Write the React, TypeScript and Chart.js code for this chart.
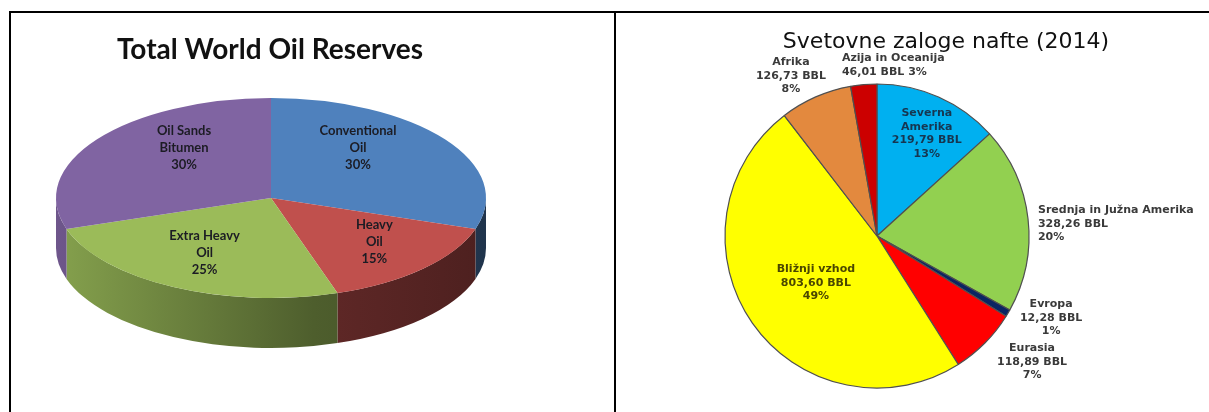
import React, { useEffect, useRef } from 'react';
import { Chart, registerables } from 'chart.js';

Chart.register(...registerables);

// ---------- Left chart data ----------
const OIL_TITLE = 'Total World Oil Reserves';
const OIL_TYPES = ['Conventional\nOil', 'Heavy\nOil', 'Extra Heavy\nOil', 'Oil Sands\nBitumen'];
const OIL_SHARES = [30, 15, 25, 30];
const OIL_COLORS = ['#4F81BD', '#C0504D', '#9BBB59', '#8064A2'];

// ---------- Right chart data ----------
const REGION_TITLE = 'Svetovne zaloge nafte (2014)';
const REGIONS = [
  'Severna\nAmerika',
  'Srednja in Južna Amerika',
  'Evropa',
  'Eurasia',
  'Bližnji vzhod',
  'Afrika',
  'Azija in Oceanija',
];
const REGION_RESERVES = [219.79, 328.26, 12.28, 118.89, 803.6, 126.73, 46.01];
const REGION_COLORS = ['#00B0F0', '#92D050', '#0B2563', '#FF0000', '#FFFF00', '#E3893E', '#CC0000'];
const VALUE_UNIT = 'BBL';

// ---------- Layout / style ----------
const W = 1209;
const H = 412;
const LEFT_W = 612;
const RIGHT_X = 616;
const RIGHT_W = W - RIGHT_X;

const TILT = 100 / 215;
const DEPTH = 50;

const OIL_LABEL = { lh: 17, font: 'bold 13px Lato', color: '#1c1c24' };
const REGION_LABEL_LAYOUT = [
  { r: 0.75, dAng: 2, align: 'center', color: '#163651' },
  { r: 1.062, dAng: 2.2, align: 'left', color: '#3a3a3a' },
  { r: 1.266, dAng: -5.3, align: 'center', color: '#3a3a3a' },
  { r: 1.314, dAng: -5.7, align: 'center', color: '#3a3a3a' },
  { r: 0.507, dAng: -2.6, align: 'center', color: '#4a4600' },
  { r: 1.195, dAng: -4.5, align: 'center', color: '#3a3a3a' },
  { r: 1.148, dAng: -6.6, align: 'left', color: '#3a3a3a', inline: true },
];

function shade(hex: string, f: number) {
  const n = parseInt(hex.slice(1), 16);
  const r = (n >> 16) & 255;
  const g = (n >> 8) & 255;
  const b = n & 255;
  return `rgb(${Math.round(r * f)},${Math.round(g * f)},${Math.round(b * f)})`;
}

const pie3dPlugin = {
  id: 'pie3d',
  beforeDatasetsDraw(chart: any) {
    const ctx: CanvasRenderingContext2D = chart.ctx;
    const meta = chart.getDatasetMeta(0);
    const a0: any = meta.data[0];
    const cx = a0.x;
    const cy = a0.y;
    const rx = a0.outerRadius;
    const ry = rx * TILT;
    meta.data.forEach((arc: any, i: number) => {
      const lo = Math.max(arc.startAngle, 0);
      const hi = Math.min(arc.endAngle, Math.PI);
      if (hi <= lo) return;
      const base = OIL_COLORS[i];
      const grad = ctx.createLinearGradient(cx - rx, 0, cx + rx, 0);
      grad.addColorStop(0, shade(base, 0.86));
      grad.addColorStop(0.6, shade(base, 0.5));
      grad.addColorStop(1, shade(base, 0.4));
      ctx.beginPath();
      ctx.ellipse(cx, cy, rx, ry, 0, lo, hi, false);
      ctx.ellipse(cx, cy + DEPTH, rx, ry, 0, hi, lo, true);
      ctx.closePath();
      ctx.fillStyle = grad;
      ctx.fill();
    });
    ctx.save();
    ctx.translate(cx, cy);
    ctx.scale(1, TILT);
    ctx.translate(-cx, -cy);
  },
  afterDatasetsDraw(chart: any) {
    const ctx: CanvasRenderingContext2D = chart.ctx;
    ctx.restore();
    const meta = chart.getDatasetMeta(0);
    const a0: any = meta.data[0];
    const cx = a0.x;
    const cy = a0.y;
    const rx = a0.outerRadius;
    const ry = rx * TILT;
    const total = OIL_SHARES.reduce((a, b) => a + b, 0);
    ctx.save();
    ctx.font = OIL_LABEL.font;
    ctx.fillStyle = OIL_LABEL.color;
    ctx.textAlign = 'center';
    ctx.textBaseline = 'middle';
    meta.data.forEach((arc: any, i: number) => {
      const mid = (arc.startAngle + arc.endAngle) / 2;
      const s = Math.sin(mid);
      const kx = s < 0 ? 0.5 : 0.68;
      const ky = s < 0 ? 0.85 : 0.62;
      const x = cx + rx * kx * Math.cos(mid);
      const y = cy + ry * ky * s;
      const lines = [...OIL_TYPES[i].split('\n'), `${Math.round((OIL_SHARES[i] / total) * 100)}%`];
      lines.forEach((t, j) => {
        ctx.fillText(t, x, y + (j - (lines.length - 1) / 2) * OIL_LABEL.lh);
      });
    });
    // title
    ctx.font = 'bold 28px Lato';
    ctx.fillStyle = '#111';
    ctx.textBaseline = 'alphabetic';
    ctx.fillText(OIL_TITLE, 270, 59);
    ctx.restore();
  },
};

const regionLabelPlugin = {
  id: 'regionLabels',
  afterDatasetsDraw(chart: any) {
    const ctx: CanvasRenderingContext2D = chart.ctx;
    const meta = chart.getDatasetMeta(0);
    const total = REGION_RESERVES.reduce((a, b) => a + b, 0);
    ctx.save();
    ctx.font = 'bold 11px "DejaVu Sans"';
    ctx.textBaseline = 'middle';
    meta.data.forEach((arc: any, i: number) => {
      const L = REGION_LABEL_LAYOUT[i];
      const mid = (arc.startAngle + arc.endAngle) / 2 + (L.dAng * Math.PI) / 180;
      const x = arc.x + arc.outerRadius * L.r * Math.cos(mid);
      const y = arc.y + arc.outerRadius * L.r * Math.sin(mid);
      const val = `${REGION_RESERVES[i].toFixed(2).replace('.', ',')} ${VALUE_UNIT}`;
      const pct = `${Math.round((REGION_RESERVES[i] / total) * 100)}%`;
      const lines = L.inline
        ? [...REGIONS[i].split('\n'), `${val} ${pct}`]
        : [...REGIONS[i].split('\n'), val, pct];
      ctx.fillStyle = L.color;
      ctx.textAlign = L.align as CanvasTextAlign;
      lines.forEach((t, j) => {
        ctx.fillText(t, x, y + (j - (lines.length - 1) / 2) * 13.5);
      });
    });
    ctx.font = '22px "DejaVu Sans"';
    ctx.fillStyle = '#111';
    ctx.textAlign = 'center';
    ctx.textBaseline = 'alphabetic';
    ctx.fillText(REGION_TITLE, 946 - RIGHT_X, 48);
    ctx.restore();
  },
};

export default function App() {
  const leftRef = useRef<HTMLCanvasElement>(null);
  const rightRef = useRef<HTMLCanvasElement>(null);

  useEffect(() => {
    const left = new Chart(leftRef.current!, {
      type: 'pie',
      data: {
        labels: OIL_TYPES,
        datasets: [
          {
            data: OIL_SHARES,
            backgroundColor: OIL_COLORS,
            borderWidth: 0,
            clip: false as any,
          },
        ],
      },
      options: {
        animation: false,
        responsive: false,
        maintainAspectRatio: false,
        events: [],
        radius: 215,
        layout: { padding: { left: 0, right: LEFT_W - 542, top: 0, bottom: H - 396 } },
        plugins: { legend: { display: false }, tooltip: { enabled: false }, title: { display: false } },
      } as any,
      plugins: [pie3dPlugin],
    });

    const right = new Chart(rightRef.current!, {
      type: 'pie',
      data: {
        labels: REGIONS,
        datasets: [
          {
            data: REGION_RESERVES,
            backgroundColor: REGION_COLORS,
            borderColor: '#505050',
            borderWidth: 1.2,
            clip: false as any,
          },
        ],
      },
      options: {
        animation: false,
        responsive: false,
        maintainAspectRatio: false,
        events: [],
        radius: 152,
        layout: { padding: { left: 0, right: RIGHT_W - 522, top: 60, bottom: 0 } },
        plugins: { legend: { display: false }, tooltip: { enabled: false }, title: { display: false } },
      } as any,
      plugins: [regionLabelPlugin],
    });

    return () => {
      left.destroy();
      right.destroy();
    };
  }, []);

  const line = (style: React.CSSProperties) => (
    <div style={{ position: 'absolute', background: '#000', ...style }} />
  );

  return (
    <div style={{ position: 'absolute', left: 0, top: 0, width: W, height: H, background: '#fff', overflow: 'hidden' }}>
      <canvas
        ref={leftRef}
        width={LEFT_W}
        height={H}
        style={{ position: 'absolute', left: 0, top: 0, width: LEFT_W, height: H }}
      />
      <canvas
        ref={rightRef}
        width={RIGHT_W}
        height={H}
        style={{ position: 'absolute', left: RIGHT_X, top: 0, width: RIGHT_W, height: H }}
      />
      {line({ left: 9, top: 11, width: W - 9, height: 2 })}
      {line({ left: 9, top: 11, width: 2, height: H - 11 })}
      {line({ left: 614, top: 11, width: 2, height: H - 11 })}
    </div>
  );
}
